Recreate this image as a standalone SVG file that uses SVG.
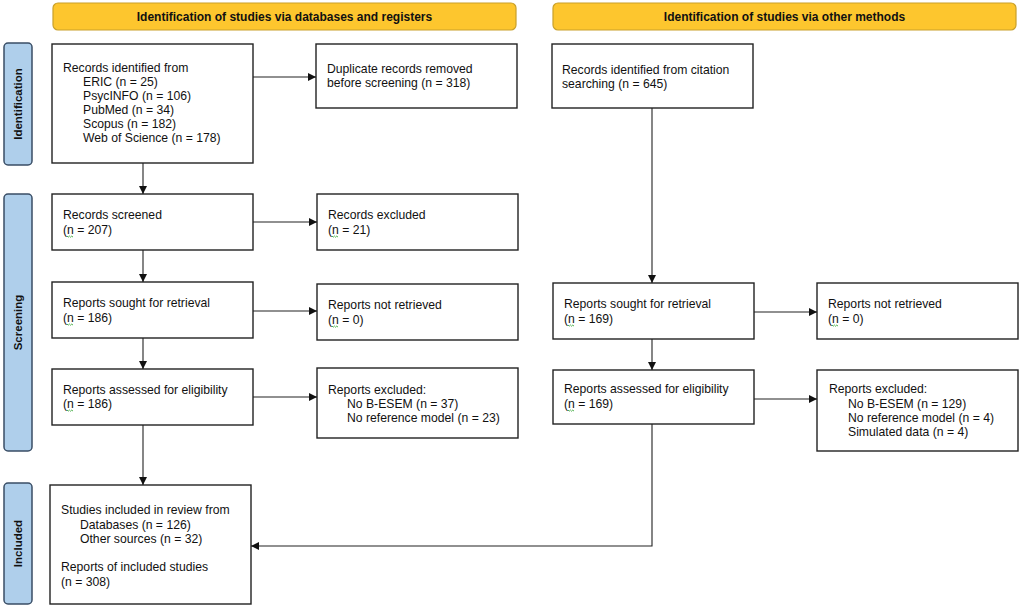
<svg xmlns="http://www.w3.org/2000/svg" width="1021" height="607" viewBox="0 0 1021 607">
<style>
text{font-family:"Liberation Sans",Arial,sans-serif;font-size:12.2px;fill:#111}
.hdr{font-weight:bold;font-size:12px;text-anchor:middle}
.side{font-weight:bold;font-size:11.5px;text-anchor:middle}
.box{fill:#fff;stroke:#222;stroke-width:1.4}
.hbox{fill:#FDC62E;stroke:#C9A02A;stroke-width:1.2}
.sbox{fill:#AFCFEB;stroke:#3A4E66;stroke-width:1.5}
.conn{fill:none;stroke:#222;stroke-width:1.1}
.sq{fill:none;stroke:#3BA83B;stroke-width:0.9}
</style>
<defs>
<marker id="ah" viewBox="0 0 10 10" refX="10" refY="5" markerWidth="8" markerHeight="8" markerUnits="userSpaceOnUse" orient="auto">
<path d="M0,0 L10,5 L0,10 z" fill="#111"/>
</marker>
<path id="sq" d="M0,0 l1.2,1.2 l1.2,-1.2 l1.2,1.2 l1.2,-1.2 l1.2,1.2" class="sq"/>
</defs>
<rect width="1021" height="607" fill="#fff"/>

<g id="header-db"><rect class="hbox" x="53" y="3" width="463" height="27" rx="5"/><text class="hdr" x="284.5" y="20.5">Identification of studies via databases and registers</text></g>
<g id="header-other"><rect class="hbox" x="553" y="3" width="463" height="27" rx="5"/><text class="hdr" x="784.5" y="20.5">Identification of studies via other methods</text></g>

<g id="label-identification"><rect class="sbox" x="4" y="43" width="28" height="122" rx="4"/><text class="side" transform="translate(22,104) rotate(-90)">Identification</text></g>
<g id="label-screening"><rect class="sbox" x="4" y="194" width="28" height="257" rx="4"/><text class="side" transform="translate(22,322.5) rotate(-90)">Screening</text></g>
<g id="label-included"><rect class="sbox" x="4" y="483" width="28" height="121" rx="4"/><text class="side" transform="translate(22,543.5) rotate(-90)">Included</text></g>

<g id="records-identified"><rect class="box" x="52" y="44" width="201" height="119"/>
<text x="63" y="72">Records identified from</text>
<text x="83" y="86">ERIC (n = 25)</text>
<text x="83" y="100">PsycINFO (n = 106)</text>
<text x="83" y="114">PubMed (n = 34)</text>
<text x="83" y="128">Scopus (n = 182)</text>
<text x="83" y="142">Web of Science (n = 178)</text></g>

<g id="duplicates"><rect class="box" x="316" y="44" width="201" height="64"/>
<text x="327" y="73">Duplicate records removed</text>
<text x="327" y="87">before screening (n = 318)</text></g>

<g id="citation"><rect class="box" x="552" y="44" width="201" height="64"/>
<text x="562" y="74">Records identified from citation</text>
<text x="562" y="88">searching (n = 645)</text></g>

<g id="records-screened"><rect class="box" x="52" y="194" width="201" height="56"/>
<text x="63" y="219">Records screened</text>
<text x="63" y="234">(n = 207)</text><use href="#sq" x="67" y="236"/></g>

<g id="records-excluded"><rect class="box" x="317" y="194" width="201" height="56"/>
<text x="328" y="219">Records excluded</text>
<text x="328" y="234">(n = 21)</text><use href="#sq" x="332" y="236"/></g>

<g id="sought-db"><rect class="box" x="52" y="282" width="201" height="56"/>
<text x="63" y="307">Reports sought for retrieval</text>
<text x="63" y="322">(n = 186)</text><use href="#sq" x="67" y="324"/></g>

<g id="notretrieved-db"><rect class="box" x="317" y="284" width="201" height="56"/>
<text x="328" y="309">Reports not retrieved</text>
<text x="328" y="324">(n = 0)</text><use href="#sq" x="332" y="326"/></g>

<g id="assessed-db"><rect class="box" x="52" y="369" width="201" height="56"/>
<text x="63" y="394">Reports assessed for eligibility</text>
<text x="63" y="408">(n = 186)</text><use href="#sq" x="67" y="410"/></g>

<g id="excluded-db"><rect class="box" x="317" y="368" width="201" height="70"/>
<text x="328" y="394">Reports excluded:</text>
<text x="347" y="408">No B-ESEM (n = 37)</text>
<text x="347" y="422">No reference model (n = 23)</text></g>

<g id="sought-other"><rect class="box" x="553" y="283" width="201" height="56"/>
<text x="564" y="308">Reports sought for retrieval</text>
<text x="564" y="323">(n = 169)</text><use href="#sq" x="568" y="325"/></g>

<g id="notretrieved-other"><rect class="box" x="817" y="283" width="201" height="56"/>
<text x="828" y="308">Reports not retrieved</text>
<text x="828" y="323">(n = 0)</text><use href="#sq" x="832" y="325"/></g>

<g id="assessed-other"><rect class="box" x="553" y="370" width="201" height="54"/>
<text x="564" y="393">Reports assessed for eligibility</text>
<text x="564" y="408">(n = 169)</text><use href="#sq" x="568" y="410"/></g>

<g id="excluded-other"><rect class="box" x="817" y="370" width="201" height="81"/>
<text x="829" y="393">Reports excluded:</text>
<text x="848" y="408">No B-ESEM (n = 129)</text>
<text x="848" y="422">No reference model (n = 4)</text>
<text x="848" y="436">Simulated data (n = 4)</text></g>

<g id="included"><rect class="box" x="50" y="485" width="201" height="119"/>
<text x="61" y="514">Studies included in review from</text>
<text x="80" y="529">Databases (n = 126)</text>
<text x="80" y="543">Other sources (n = 32)</text>
<text x="61" y="571">Reports of included studies</text>
<text x="61" y="586">(n = 308)</text></g>

<g id="connectors" class="conn">
<line x1="253" y1="77" x2="316" y2="77" marker-end="url(#ah)"/>
<line x1="143" y1="163" x2="143" y2="194" marker-end="url(#ah)"/>
<line x1="253" y1="222" x2="317" y2="222" marker-end="url(#ah)"/>
<line x1="143" y1="250" x2="143" y2="282" marker-end="url(#ah)"/>
<line x1="253" y1="311" x2="317" y2="311" marker-end="url(#ah)"/>
<line x1="143" y1="338" x2="143" y2="369" marker-end="url(#ah)"/>
<line x1="253" y1="397" x2="317" y2="397" marker-end="url(#ah)"/>
<line x1="143" y1="425" x2="143" y2="485" marker-end="url(#ah)"/>
<line x1="652" y1="108" x2="652" y2="283" marker-end="url(#ah)"/>
<line x1="754" y1="312" x2="817" y2="312" marker-end="url(#ah)"/>
<line x1="652" y1="339" x2="652" y2="370" marker-end="url(#ah)"/>
<line x1="754" y1="399" x2="817" y2="399" marker-end="url(#ah)"/>
<polyline points="652,424 652,546 251,546" marker-end="url(#ah)"/>
</g>
</svg>
